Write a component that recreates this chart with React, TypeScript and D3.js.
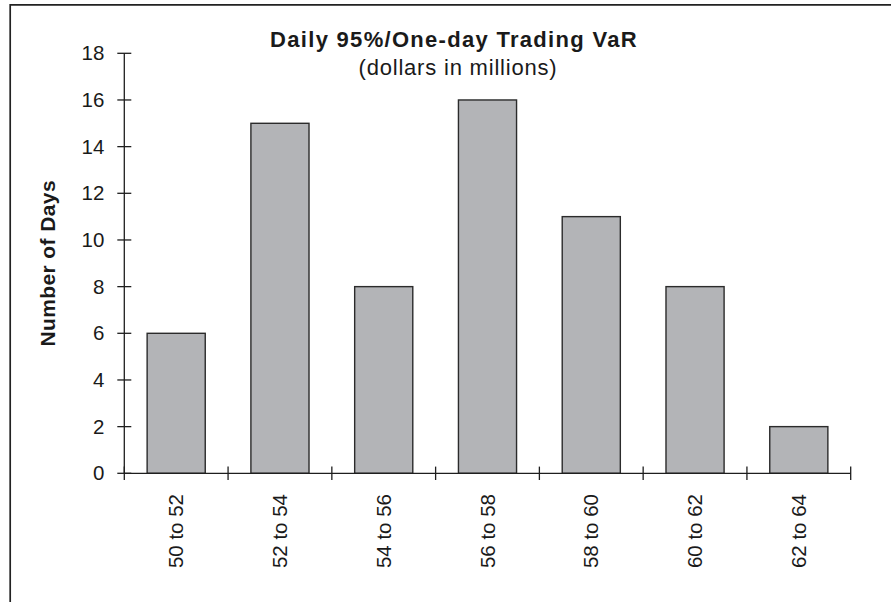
import React, { useEffect, useRef } from 'react';
import * as d3 from 'd3';

// VaR buckets (dollars in millions) and how many days fell in each
const categories = ['50 to 52', '52 to 54', '54 to 56', '56 to 58', '58 to 60', '60 to 62', '62 to 64'];
const days = [6, 15, 8, 16, 11, 8, 2];
const yTicks = [0, 2, 4, 6, 8, 10, 12, 14, 16, 18];

const title = 'Daily 95%/One-day Trading VaR';
const subtitle = '(dollars in millions)';
const yLabel = 'Number of Days';

const width = 891;
const height = 602;
const font = '"Liberation Sans", Arial, Helvetica, sans-serif';

export default function App() {
  const ref = useRef<SVGSVGElement>(null);

  useEffect(() => {
    document.body.style.margin = '0';
    const svg = d3.select(ref.current);
    svg.html('');

    const left = 124.3, right = 850.7, top = 53.3, bottom = 473.3;

    const y = d3.scaleLinear().domain([0, 18]).range([bottom, top]);
    const x = d3
      .scaleBand()
      .domain(categories)
      .range([left, right])
      .paddingInner(0.44)
      .paddingOuter(0.22);
    const step = x.step();

    // frame (only top and left edges are visible in the picture)
    svg.append('path')
      .attr('d', `M10.2,${height} V4.8 H${width}`)
      .attr('fill', 'none')
      .attr('stroke', '#222')
      .attr('stroke-width', 1.7);

    // bars
    svg.append('g').selectAll('rect')
      .data(days)
      .enter().append('rect')
      .attr('x', (d, i) => x(categories[i]))
      .attr('y', d => y(d))
      .attr('width', x.bandwidth())
      .attr('height', d => bottom - y(d))
      .attr('fill', '#b3b4b7')
      .attr('stroke', '#2b2b2b')
      .attr('stroke-width', 1.4);

    const axes = svg.append('g').attr('stroke', '#1e1e1e').attr('stroke-width', 1.3);

    // y axis with crossing ticks
    axes.append('line').attr('x1', left).attr('x2', left).attr('y1', top).attr('y2', bottom);
    axes.selectAll('.yt').data(yTicks).enter().append('line')
      .attr('x1', left - 7).attr('x2', left + 7)
      .attr('y1', d => y(d)).attr('y2', d => y(d));

    // x axis, ticks on category boundaries
    axes.append('line').attr('x1', left).attr('x2', right).attr('y1', bottom).attr('y2', bottom);
    axes.selectAll('.xt').data(d3.range(categories.length + 1)).enter().append('line')
      .attr('x1', i => left + i * step).attr('x2', i => left + i * step)
      .attr('y1', bottom - 6.7).attr('y2', bottom + 6.7);

    svg.append('g').selectAll('text').data(yTicks).enter().append('text')
      .attr('x', left - 20)
      .attr('y', d => y(d))
      .attr('dy', '0.35em')
      .attr('text-anchor', 'end')
      .attr('font-family', font)
      .attr('font-size', 20.5)
      .attr('fill', '#1a1a1a')
      .text(d => d);

    svg.append('g').selectAll('text').data(categories).enter().append('text')
      .attr('transform', d => `translate(${x(d) + x.bandwidth() / 2},494) rotate(-90)`)
      .attr('dy', '0.35em')
      .attr('text-anchor', 'end')
      .attr('font-family', font)
      .attr('font-size', 20.5)
      .attr('fill', '#1a1a1a')
      .text(d => d);

    svg.append('text')
      .attr('transform', `translate(55,${(top + bottom) / 2}) rotate(-90)`)
      .attr('text-anchor', 'middle')
      .attr('font-family', font)
      .attr('font-size', 21)
      .attr('font-weight', 'bold')
      .attr('letter-spacing', 0.4)
      .attr('fill', '#1a1a1a')
      .text(yLabel);

    svg.append('text')
      .attr('x', 454).attr('y', 46.7)
      .attr('text-anchor', 'middle')
      .attr('font-family', font)
      .attr('font-size', 22)
      .attr('font-weight', 'bold')
      .attr('letter-spacing', 1.3)
      .attr('fill', '#1a1a1a')
      .text(title);

    svg.append('text')
      .attr('x', 458).attr('y', 75)
      .attr('text-anchor', 'middle')
      .attr('font-family', font)
      .attr('font-size', 22)
      .attr('letter-spacing', 0.8)
      .attr('fill', '#1a1a1a')
      .text(subtitle);
  }, []);

  return (
    <svg ref={ref} width={width} height={height} style={{ display: 'block', background: '#fff' }}></svg>
  );
}
